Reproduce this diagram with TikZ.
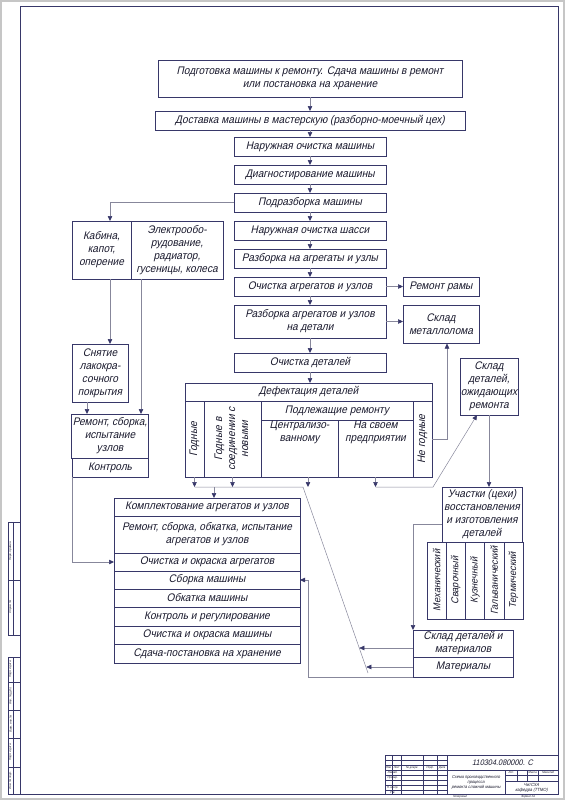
\documentclass[tikz,border=0pt]{standalone}
\usepackage{fontspec}
\usepackage{graphicx}
\newfontfamily\gost{Liberation Sans}[FakeSlant=0.22,FakeStretch=0.92]
\usetikzlibrary{arrows.meta}
\definecolor{linec}{RGB}{55,55,105}
\definecolor{conc}{RGB}{135,135,155}
\definecolor{txtc}{RGB}{25,25,45}

\begin{document}
\begin{tikzpicture}[x=1pt,y=-1pt,
  box/.style={draw=linec, line width=0.6pt, inner sep=1pt, outer sep=0pt, align=center, text=txtc, font=\gost\fontsize{11}{13}\selectfont},
  chain/.style={box, minimum width=152pt, minimum height=19pt},
  stack/.style={box, minimum width=186pt},
  flow/.style={draw=conc, line width=0.5pt, -{Triangle[length=5pt,width=4.5pt,color=linec]}},
  link/.style={draw=conc, line width=0.5pt},
  stamp/.style={inner sep=0pt, text=txtc, align=center, font=\gost\fontsize{3}{3.5}\selectfont}]

% sheet and frame
\useasboundingbox (0,0) rectangle (565,800);
\draw[gray!45, line width=1.5pt] (1,1) rectangle (564,799);
\draw[linec, line width=0.9pt] (20,6) rectangle (558,794);

% left margin strips
\draw[linec, line width=0.5pt] (8,522) rectangle (20,635);
\draw[linec, line width=0.5pt] (8,580) -- (20,580) (13,522) -- (13,635);
\draw[linec, line width=0.5pt] (8,657) rectangle (20,794);
\foreach \y in {682,710,738,767}
  \draw[linec, line width=0.5pt] (8,\y) -- (20,\y);
\draw[linec, line width=0.5pt] (13,657) -- (13,794);
\node[stamp, rotate=90] (perv) at (10.5,551) {Перв. примен.};
\node[stamp, rotate=90] (sprav) at (10.5,607) {Справ. №};
\node[stamp, rotate=90] (podp2) at (10.5,669.5) {Подп. и дата};
\node[stamp, rotate=90] (dubl) at (10.5,696) {Инв. № дубл.};
\node[stamp, rotate=90] (vzam) at (10.5,724) {Взам. инв. №};
\node[stamp, rotate=90] (podp1) at (10.5,752.5) {Подп. и дата};
\node[stamp, rotate=90] (podl) at (10.5,780.5) {Инв. № подл.};

% title block
\draw[linec, line width=0.7pt] (385,755) rectangle (558,794);
\foreach \x in {392,401,423,437,447}
  \draw[linec, line width=0.4pt] (\x,755) -- (\x,794);
\foreach \y in {760,765,770,775,780,785,790}
  \draw[linec, line width=0.3pt] (385,\y) -- (447,\y);
\draw[linec, line width=0.4pt] (447,770) -- (558,770) (505,770) -- (505,794)
  (505,775) -- (558,775) (505,781) -- (558,781);
\foreach \x in {517,527,538}
  \draw[linec, line width=0.3pt] (\x,770) -- (\x,781);
\node[stamp, font=\gost\fontsize{8}{9}\selectfont] (tbnum) at (502.5,762.5) {110304.080000. С};
\node[stamp, font=\gost\fontsize{4.3}{5}\selectfont] (tbname) at (476,782) {Схема производственного\\процесса\\ремонта сложной машины};
\node[stamp] (lit) at (511,772.5) {Лит.};
\node[stamp] (massa) at (532.5,772.5) {Масса};
\node[stamp] (masht) at (548,772.5) {Масштаб};
\node[stamp, font=\gost\fontsize{4.5}{5.2}\selectfont] (tborg) at (531.5,787.5) {ЧитСХА\\кафедра (ТТМО)};
\node[stamp] (izm) at (388.5,767.5) {Изм.};
\node[stamp] (list) at (396.5,767.5) {Лист};
\node[stamp] (ndok) at (412,767.5) {№ докум.};
\node[stamp] (podp) at (430,767.5) {Подп.};
\node[stamp] (data) at (442,767.5) {Дата};
\node[stamp] (razrab) at (392.5,772.5) {Разраб.};
\node[stamp] (prov) at (392.5,777.5) {Провер.};
\node[stamp] (nkontr) at (392.5,787.5) {Н. контр.};
\node[stamp] (utv) at (392.5,792) {Утв.};
\node[stamp] (kopir) at (460,797) {Копировал};
\node[stamp] (format) at (528,797) {Формат А1};

% main chain
\node[box, minimum width=304pt, minimum height=37pt] (prep) at (310,78.5) {Подготовка машины к ремонту. Сдача машины в ремонт\\или постановка на хранение};
\node[box, minimum width=310pt, minimum height=19pt] (deliv) at (310,120.5) {Доставка машины в мастерскую (разборно-моечный цех)};
\node[chain] (nar) at (310,146.5) {Наружная очистка машины};
\node[chain] (diag) at (310,174.5) {Диагностирование машины};
\node[chain] (podr) at (310,202.5) {Подразборка машины};
\node[chain] (shas) at (310,230.5) {Наружная очистка шасси};
\node[chain] (razb) at (310,258.5) {Разборка на агрегаты и узлы};
\node[chain] (ochag) at (310,286.5) {Очистка агрегатов и узлов};
\node[chain, minimum height=33pt] (razdet) at (310,321.5) {Разборка агрегатов и узлов\\на детали};
\node[chain] (ochdet) at (310,362.5) {Очистка деталей};

% side boxes
\node[box, minimum width=76pt, minimum height=19pt] (rama) at (441,286.5) {Ремонт рамы};
\node[box, minimum width=76pt, minimum height=38pt] (metal) at (441,324.5) {Склад\\металлолома};
\node[box, minimum width=58pt, minimum height=57pt] (wait) at (489,386.5) {Склад\\деталей,\\ожидающих\\ремонта};

% defect table
\node[box, minimum width=247pt, minimum height=18pt] (defhead) at (308.5,392) {Дефектация деталей};
\node[box, minimum width=19pt, minimum height=76pt] (godn) at (194.5,439) {\rotatebox{90}{Годные}};
\node[box, minimum width=57pt, minimum height=76pt] (soed) at (232.5,439) {\rotatebox{90}{\begin{tabular}{@{}c@{}}Годные в\\соединении с\\новыми\end{tabular}}};
\node[box, minimum width=152pt, minimum height=19pt] (podlrem) at (337,410.5) {Подлежащие ремонту};
\node[box, minimum width=77pt, minimum height=57pt,
  label={[box, draw=none, anchor=north]north:{Централизо-\\ванному}}] (centr) at (299.5,448.5) {};
\node[box, minimum width=75pt, minimum height=57pt,
  label={[box, draw=none, anchor=north]north:{На своем\\предприятии}}] (svoem) at (375.5,448.5) {};
\node[box, minimum width=19pt, minimum height=76pt] (negodn) at (422.5,439) {\rotatebox{90}{Не годные}};

% left branch
\node[box, minimum width=59pt, minimum height=58pt] (kab) at (101.5,250) {Кабина,\\капот,\\оперение};
\node[box, minimum width=92pt, minimum height=58pt] (elec) at (177,250) {Электрообо-\\рудование,\\радиатор,\\гусеницы, колеса};
\node[box, minimum width=56pt, minimum height=58pt] (sny) at (100,373) {Снятие\\лакокра-\\сочного\\покрытия};
\node[box, minimum width=76pt, minimum height=44pt] (rem) at (110,436) {Ремонт, сборка,\\испытание\\узлов};
\node[box, minimum width=76pt, minimum height=19pt] (kon) at (110,467.5) {Контроль};

% assembly stack
\node[stack, minimum height=18pt] (kompl) at (207,507) {Комплектование агрегатов и узлов};
\node[stack, minimum height=37pt] (remagr) at (207,534.5) {Ремонт, сборка, обкатка, испытание\\агрегатов и узлов};
\node[stack, minimum height=18pt] (ochagr) at (207,562) {Очистка и окраска агрегатов};
\node[stack, minimum height=18pt] (sborka) at (207,580) {Сборка машины};
\node[stack, minimum height=18pt] (obk) at (207,598) {Обкатка машины};
\node[stack, minimum height=19pt] (kontr) at (207,616.5) {Контроль и регулирование};
\node[stack, minimum height=18pt] (ochm) at (207,635) {Очистка и окраска машины};
\node[stack, minimum height=19pt] (sdacha) at (207,653.5) {Сдача-постановка на хранение};

% repair shops
\node[box, minimum width=80pt, minimum height=55pt] (uch) at (482,514.5) {Участки (цехи)\\восстановления\\и изготовления\\деталей};
\foreach \nm/\txt [count=\i] in {mech/Механический, svar/Сварочный, kuzn/Кузнечный, galv/Гальванический, term/Термический}
  \node[box, minimum width=19.2pt, minimum height=77pt, font=\gost\fontsize{10}{12}\selectfont] (\nm) at ({417.4+\i*19.2},580.5) {\rotatebox{90}{\txt}};

% stores
\node[box, minimum width=100pt, minimum height=27pt, inner sep=0.5pt] (sklad) at (463,643.5) {Склад деталей и\\материалов};
\node[box, minimum width=100pt, minimum height=20pt] (mat) at (463,667) {Материалы};

% free ends
\coordinate (asmL) at (194.5,487);
\coordinate (asmR) at (303,487);
\coordinate (diagEnd) at (368,673);
\coordinate (inA) at (359.3,648);
\coordinate (inB) at (366.3,667);
\coordinate (centrOut) at (308,487);
\coordinate (waitA) at (433,487);

% main chain arrows
\foreach \a/\b in {prep/deliv, deliv/nar, nar/diag, diag/podr, podr/shas, shas/razb, razb/ochag, ochag/razdet, razdet/ochdet, ochdet/defhead}
  \draw[flow] (\a.south) -- (\a.south |- \b.north);

% side arrows
\draw[flow] (ochag) -- (rama);
\draw[flow] (razdet.east) -- (razdet.east -| metal.west);
\draw[flow] (negodn.east) -| ([xshift=6pt]metal.south);

% left branch arrows
\draw[flow] (podr.west) -| ([xshift=8.5pt]kab.north);
\draw[flow] ([xshift=8.5pt]kab.south) -- ([xshift=8.5pt]kab.south |- sny.north);
\draw[flow] ([xshift=-13pt]sny.south) -- ([xshift=-13pt]sny.south |- rem.north);
\draw[flow] ([xshift=-36pt]elec.south) -- ([xshift=-36pt]elec.south |- rem.north);
\draw[flow] (kon.south west) |- (ochagr.west);

% defect outputs
\draw[link] (asmL) -- (asmR) -- (diagEnd);
\draw[flow] (godn.south) -- (asmL);
\draw[flow] (soed.south) -- (soed.south |- asmL);
\draw[flow] ([xshift=7pt]kompl.north |- asmL) -- ([xshift=7pt]kompl.north);
\draw[flow] ([xshift=8.5pt]centr.south) -- (centrOut);
\draw[flow] (svoem.south) -- (svoem.south |- waitA);
\draw[flow] (svoem.south |- waitA) -- (waitA) -- ([xshift=-12pt]wait.south);

% repair and stores
\draw[flow] (wait.south) -- (wait.south |- uch.north);
\draw[flow] ([yshift=-10pt]uch.west) -| (sklad.north west);
\draw[flow] ([yshift=-4.5pt]sklad.west) -- (inA);
\draw[flow] (mat.west) -- (inB);
\draw[flow] (mat.south west) -| ([xshift=8pt]sborka.east) -- (sborka.east);
\end{tikzpicture}
\end{document}
